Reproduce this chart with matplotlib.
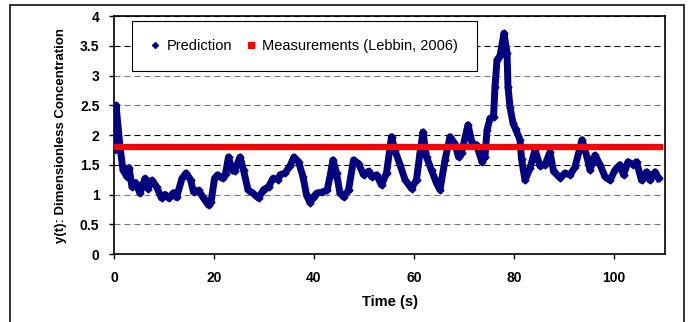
import numpy as np
import matplotlib
matplotlib.use('Agg')
import matplotlib.pyplot as plt
from matplotlib.lines import Line2D
from matplotlib.patches import Rectangle

plt.rcParams['font.family'] = ['Liberation Sans', 'DejaVu Sans']
plt.rcParams['lines.scale_dashes'] = False

# data
time_s = [0, 0.4, 1.2, 1.8, 2.6, 3.0, 3.6, 4.3, 5.2, 6.2, 6.8, 7.6, 8.5, 9.5, 10.2,
          10.9, 11.9, 12.5, 13.6, 14.4, 15.3, 15.9, 16.9, 17.9, 18.9, 19.4, 20.1,
          20.7, 21.7, 22.3, 22.9, 23.6, 24.1, 25.2, 25.9, 26.8, 27.8, 28.9, 29.9,
          30.9, 31.8, 32.8, 33.2, 34.2, 35.2, 36.0, 36.9, 37.8, 38.5, 39.2, 39.9,
          40.5, 41.6, 42.6, 43.2, 43.8, 44.5, 45.2, 45.9, 46.9, 47.9, 48.9, 49.9,
          50.9, 51.5, 52.5, 53.5, 54.5, 55.5, 56.2, 57.2, 58.2, 59.5, 60.5, 61.2,
          61.8, 62.5, 63.5, 64.5, 65.2, 66.2, 67.2, 68.2, 68.9, 69.5, 70.8, 71.6,
          72.5, 73.6, 74.2, 74.6, 75.2, 75.9, 76.2, 76.6, 77.2, 78.0, 78.6, 78.8,
          79.2, 79.8, 80.3, 81.2, 81.5, 82.2, 83.2, 84.2, 85.2, 86.2, 87.2, 87.9,
          89.2, 90.2, 91.2, 92.2, 93.6, 94.6, 95.2, 96.2, 97.2, 98.2, 99.2, 100.2,
          101.2, 101.9, 102.8, 103.8, 104.5, 105.5, 106.5, 107.2, 108.2, 108.9]
prediction = [1.75, 2.5, 1.8, 1.41, 1.3, 1.45, 1.13, 1.2, 1.02, 1.27, 1.1, 1.24, 1.13,
              0.94, 1.0, 0.94, 1.03, 0.95, 1.27, 1.36, 1.25, 1.04, 1.07, 0.94, 0.82,
              0.87, 1.27, 1.33, 1.27, 1.35, 1.63, 1.41, 1.39, 1.63, 1.41, 1.08, 1.02,
              0.94, 1.08, 1.13, 1.27, 1.25, 1.33, 1.36, 1.48, 1.63, 1.55, 1.3, 0.99,
              0.86, 0.96, 1.02, 1.04, 1.07, 1.3, 1.58, 1.36, 1.02, 0.96, 1.07, 1.58,
              1.52, 1.33, 1.39, 1.3, 1.33, 1.16, 1.36, 1.97, 1.74, 1.5, 1.25, 1.1,
              1.25, 1.7, 2.05, 1.63, 1.41, 1.19, 1.08, 1.58, 1.97, 1.85, 1.63, 1.7,
              2.17, 1.87, 1.83, 1.55, 1.63, 2.08, 2.28, 2.3, 2.81, 3.26, 3.33, 3.71,
              3.38, 2.81, 2.47, 2.2, 2.1, 1.92, 1.6, 1.24, 1.44, 1.75, 1.48, 1.5,
              1.71, 1.39, 1.28, 1.36, 1.33, 1.46, 1.92, 1.63, 1.41, 1.66, 1.5, 1.3,
              1.24, 1.41, 1.5, 1.33, 1.55, 1.5, 1.55, 1.24, 1.38, 1.24, 1.38, 1.27]
meas_time = [0, 109.2]
meas_value = [1.8, 1.8]

navy = '#000080'

fig = plt.figure(figsize=(6.91, 3.22), dpi=100)
fig.patches.append(Rectangle((10 / 691, -0.1), 674 / 691, 1.1 - 5 / 322,
                             transform=fig.transFigure, fill=False,
                             edgecolor='#222222', lw=1.3))
ax = fig.add_axes([114 / 691, 68 / 322, 551 / 691, 238 / 322])

ax.plot(time_s, prediction, color=navy, lw=5, marker='D', ms=3.5,
        solid_joinstyle='round', zorder=3)
ax.plot(meas_time, meas_value, color='#ff0000', lw=4.5, zorder=4)

ax.set_xlim(0, 110.2)
ax.set_ylim(0, 4)
ax.set_xticks(np.arange(0, 101, 20))
ax.set_yticks(np.arange(0, 4.01, 0.5))
ax.set_yticklabels(['0', '0.5', '1', '1.5', '2', '2.5', '3', '3.5', '4'])

ax.yaxis.grid(True, ls=(0, (4.3, 2.9)), color='k', lw=0.8)
grid_cols = ['k', '#777777', '#777777', 'k', 'k', '#777777', '#777777', 'k', 'k']
for gl, c in zip(ax.get_ygridlines(), grid_cols):
    gl.set_color(c)
ax.set_axisbelow(True)

for sp in ax.spines.values():
    sp.set_linewidth(1.2)
ax.tick_params(axis='both', direction='out', length=3.5, width=1, labelsize=10)
ax.tick_params(axis='x', pad=9)
ax.tick_params(axis='y', pad=7)
for lab in ax.get_xticklabels() + ax.get_yticklabels():
    lab.set_fontweight('bold')

ax.set_xlabel('Time (s)', fontsize=10.5, fontweight='bold', labelpad=7)
ax.set_ylabel('y(t): Dimensionless Concentration', fontsize=9.5, fontweight='bold',
              labelpad=9)

handles = [Line2D([], [], ls='none', marker='D', ms=3, color=navy),
           Line2D([], [], ls='none', marker='s', ms=4, color='#ff0000')]
leg = ax.legend(handles, ['Prediction', 'Measurements (Lebbin, 2006)'], ncol=2,
                loc='upper left', bbox_to_anchor=(0.0327, 0.979), borderaxespad=0,
                fontsize=10.5, handlelength=0.6, handletextpad=0.5,
                columnspacing=1.0, borderpad=1.25, fancybox=False, framealpha=1)
leg.get_frame().set_edgecolor('k')
leg.get_frame().set_linewidth(0.8)

fig.savefig('out.png', dpi=100)
